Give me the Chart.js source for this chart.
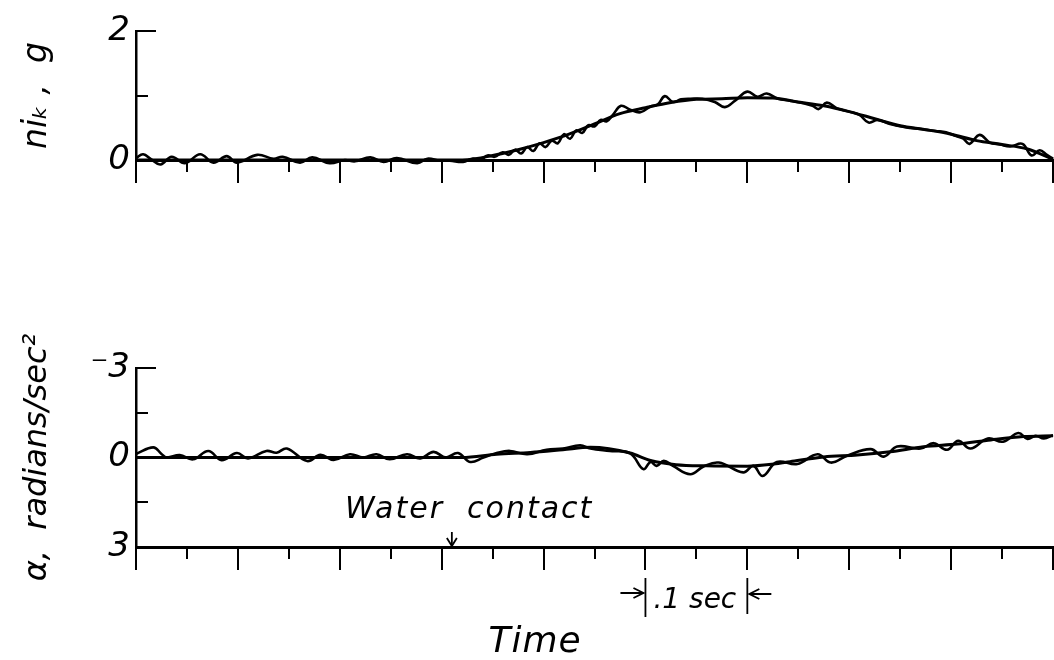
<!DOCTYPE html>
<html>
<head>
<meta charset="utf-8">
<script src="https://cdn.jsdelivr.net/npm/chart.js@4.4.1/dist/chart.umd.min.js"></script>
<style>
  html, body { margin: 0; padding: 0; background: #fff; }
  #wrap { position: relative; width: 1054px; height: 660px; }
  #wrap canvas { position: absolute; left: 0; top: 0; }
</style>
</head>
<body>
<div id="wrap">
  <canvas id="loadFactor" width="1054" height="660"></canvas>
  <canvas id="angAccel" width="1054" height="660"></canvas>
</div>
<script>
// time axis, sec (tick every .05, long tick every .1)
var xTicks = [0, 0.05, 0.1, 0.15, 0.2, 0.25, 0.3, 0.35, 0.4, 0.45, 0.5, 0.55, 0.6, 0.65, 0.7, 0.75, 0.8, 0.85, 0.9];
var waterContact = 0.31;

// top: load factor n, g
var topLabels = [0, 2];
var topMarks = [1, 2];
var fairTopT = [0, 0.30, 0.325, 0.35, 0.375, 0.40, 0.425, 0.45, 0.475, 0.50, 0.525, 0.55, 0.575, 0.60, 0.625, 0.65, 0.675, 0.70, 0.725, 0.75, 0.775, 0.80, 0.825, 0.85, 0.875, 0.90];
var fairTopN = [0, 0, 0.005, 0.07, 0.16, 0.27, 0.40, 0.56, 0.72, 0.81, 0.89, 0.94, 0.95, 0.965, 0.96, 0.90, 0.84, 0.75, 0.64, 0.53, 0.47, 0.40, 0.30, 0.24, 0.17, 0.01];
var measTopT = [0, 0.007, 0.015, 0.024, 0.035, 0.048, 0.063, 0.076, 0.089, 0.099, 0.119, 0.135, 0.144, 0.161, 0.173, 0.190, 0.205, 0.215, 0.230, 0.243, 0.256, 0.276, 0.286, 0.298, 0.308, 0.321,
  0.330, 0.338, 0.345, 0.352, 0.360, 0.366, 0.372, 0.378, 0.384, 0.390, 0.396, 0.402, 0.408, 0.414, 0.420, 0.426, 0.432, 0.438, 0.444, 0.450, 0.456, 0.462, 0.468, 0.476,
  0.485, 0.495, 0.505, 0.512, 0.519, 0.527, 0.535, 0.544, 0.556, 0.568, 0.578, 0.588, 0.600, 0.610, 0.619, 0.630, 0.642, 0.655, 0.664, 0.670, 0.678, 0.688, 0.700,
  0.710, 0.719, 0.728, 0.740, 0.755, 0.770, 0.785, 0.795, 0.805, 0.812, 0.818, 0.828, 0.838, 0.848, 0.858, 0.870, 0.879, 0.887, 0.894, 0.900];
var measTopN = [0.03, 0.09, 0.01, -0.07, 0.05, -0.05, 0.09, -0.04, 0.06, -0.04, 0.08, 0.02, 0.05, -0.04, 0.04, -0.05, 0.0, -0.02, 0.04, -0.03, 0.03, -0.05, 0.02, -0.01, -0.01, -0.03,
  0.02, 0.0, 0.07, 0.05, 0.12, 0.08, 0.16, 0.10, 0.20, 0.14, 0.26, 0.20, 0.30, 0.26, 0.40, 0.33, 0.46, 0.42, 0.54, 0.52, 0.62, 0.60, 0.70, 0.84,
  0.78, 0.74, 0.83, 0.86, 0.99, 0.90, 0.94, 0.95, 0.95, 0.90, 0.82, 0.92, 1.06, 0.98, 1.03, 0.95, 0.92, 0.88, 0.84, 0.79, 0.89, 0.80, 0.75,
  0.70, 0.58, 0.62, 0.56, 0.51, 0.48, 0.45, 0.43, 0.37, 0.33, 0.25, 0.39, 0.27, 0.24, 0.21, 0.25, 0.07, 0.15, 0.08, 0.02];

// bottom: angular acceleration, radians/sec^2 (axis runs -3 at top to 3 at bottom)
var botLabels = [-3, 0, 3];
var botMarks = [-3, -1.5, 1.5];
var fairBotT = [0, 0.32, 0.354, 0.387, 0.419, 0.446, 0.485, 0.505, 0.53, 0.56, 0.60, 0.626, 0.642, 0.675, 0.708, 0.74, 0.773, 0.806, 0.839, 0.871, 0.90];
var fairBotA = [0, 0, -0.11, -0.17, -0.26, -0.34, -0.15, 0.10, 0.24, 0.28, 0.29, 0.22, 0.14, -0.02, -0.08, -0.19, -0.36, -0.45, -0.59, -0.70, -0.73];
var measBotT = [0, 0.017, 0.025, 0.030, 0.043, 0.056, 0.071, 0.084, 0.099, 0.110, 0.128, 0.138, 0.148, 0.168, 0.181, 0.194, 0.210, 0.223, 0.236, 0.249, 0.266, 0.279, 0.292, 0.304, 0.316, 0.328,
  0.341, 0.354, 0.367, 0.384, 0.403, 0.419, 0.436, 0.446, 0.465, 0.485, 0.498, 0.505, 0.511, 0.518, 0.527, 0.544, 0.557, 0.572, 0.596, 0.606, 0.615, 0.629, 0.649,
  0.669, 0.682, 0.698, 0.721, 0.734, 0.747, 0.770, 0.783, 0.796, 0.807, 0.819, 0.836, 0.851, 0.866, 0.875, 0.883, 0.891, 0.900];
var measBotA = [-0.12, -0.34, -0.12, 0.0, -0.08, 0.06, -0.22, 0.09, -0.15, 0.03, -0.22, -0.16, -0.30, 0.12, -0.09, 0.08, -0.11, 0.0, -0.11, 0.06, -0.11, 0.03, -0.19, 0.0, -0.15, 0.15,
  0.0, -0.15, -0.22, -0.11, -0.26, -0.30, -0.41, -0.30, -0.22, -0.14, 0.39, 0.15, 0.28, 0.11, 0.28, 0.56, 0.30, 0.17, 0.50, 0.28, 0.62, 0.15, 0.22,
  -0.11, 0.17, -0.06, -0.28, -0.03, -0.37, -0.30, -0.48, -0.26, -0.56, -0.30, -0.64, -0.53, -0.82, -0.62, -0.73, -0.64, -0.75];

var FONT = '"DejaVu Sans", "Liberation Sans", sans-serif';

function pairs(xs, ys) {
  return xs.map(function(x, i) { return {x: x, y: ys[i]}; });
}

// tick marks: time ticks point down, value ticks point into the plot
function tickMarks(yMarks) {
  return {
    id: 'tickMarks',
    afterDraw: function(chart) {
      var ctx = chart.ctx, area = chart.chartArea;
      var xs = chart.scales.x, ys = chart.scales.y;
      ctx.save();
      ctx.strokeStyle = '#000';
      ctx.lineWidth = 2;
      xTicks.forEach(function(t, i) {
        var px = Math.round(xs.getPixelForValue(t));
        var len = i % 2 === 0 ? 23 : 12;
        ctx.beginPath();
        ctx.moveTo(px, area.bottom);
        ctx.lineTo(px, area.bottom + len);
        ctx.stroke();
      });
      yMarks.forEach(function(v) {
        var py = Math.round(ys.getPixelForValue(v));
        var len = (v === ys.min || v === ys.max) ? 20 : 12;
        ctx.beginPath();
        ctx.moveTo(area.left, py);
        ctx.lineTo(area.left + len, py);
        ctx.stroke();
      });
      ctx.restore();
    }
  };
}

function arrowHead(ctx, x, y, dir) {
  ctx.beginPath();
  if (dir === 'down') {
    ctx.moveTo(x - 5, y - 8); ctx.lineTo(x, y); ctx.lineTo(x + 5, y - 8);
  } else if (dir === 'right') {
    ctx.moveTo(x - 10, y - 5); ctx.lineTo(x, y); ctx.lineTo(x - 10, y + 5);
  } else {
    ctx.moveTo(x + 10, y - 5); ctx.lineTo(x, y); ctx.lineTo(x + 10, y + 5);
  }
  ctx.stroke();
}

var notes = {
  id: 'notes',
  afterDraw: function(chart) {
    var ctx = chart.ctx, xs = chart.scales.x, area = chart.chartArea;
    ctx.save();
    ctx.fillStyle = '#000';
    ctx.strokeStyle = '#000';
    ctx.lineWidth = 1.8;
    ctx.textBaseline = 'alphabetic';

    // water contact
    ctx.font = 'italic 30px ' + FONT;
    ctx.letterSpacing = '2px';
    ctx.textAlign = 'left';
    ctx.fillText('Water  contact', 345, 518);
    var wx = xs.getPixelForValue(waterContact);
    ctx.beginPath();
    ctx.moveTo(wx, area.bottom - 15);
    ctx.lineTo(wx, area.bottom - 1);
    ctx.stroke();
    arrowHead(ctx, wx, area.bottom - 1, 'down');

    // .1 sec marker
    var a = xs.getPixelForValue(0.5), b = xs.getPixelForValue(0.6);
    ctx.beginPath();
    ctx.moveTo(a, 578); ctx.lineTo(a, 617);
    ctx.moveTo(b, 578); ctx.lineTo(b, 614);
    ctx.moveTo(a - 25, 593); ctx.lineTo(a - 2, 593);
    ctx.moveTo(b + 24, 594); ctx.lineTo(b + 2, 594);
    ctx.stroke();
    arrowHead(ctx, a - 2, 593, 'right');
    arrowHead(ctx, b + 2, 594, 'left');
    ctx.font = 'italic 28px ' + FONT;
    ctx.letterSpacing = '0px';
    ctx.fillText('.1 sec', a + 8, 608);

    // time axis title
    ctx.font = 'italic 36px ' + FONT;
    ctx.letterSpacing = '1px';
    ctx.textAlign = 'center';
    ctx.fillText('Time', 535, 652);
    ctx.restore();
  }
};

function makeChart(id, cfg) {
  return new Chart(document.getElementById(id), {
    type: 'line',
    data: {
      datasets: [
        { data: pairs(cfg.fairT, cfg.fairV), cubicInterpolationMode: 'monotone', borderWidth: 3 },
        { data: pairs(cfg.measT, cfg.measV), tension: 0.4, borderWidth: 2.6 }
      ]
    },
    options: {
      responsive: false,
      animation: false,
      devicePixelRatio: 1,
      layout: { padding: cfg.padding },
      elements: {
        point: { radius: 0 },
        line: { borderColor: '#000', fill: false }
      },
      datasets: { line: { clip: false } },
      plugins: { legend: { display: false }, tooltip: { enabled: false } },
      scales: {
        x: {
          type: 'linear', min: 0, max: 0.9,
          ticks: { display: false },
          grid: { display: false, drawTicks: false },
          border: { display: true, width: 3, color: '#000' },
          afterFit: function(s) { s.height = 0; }
        },
        y: {
          min: cfg.min, max: cfg.max, reverse: cfg.reverse,
          afterBuildTicks: function(s) { s.ticks = cfg.labels.map(function(v) { return {value: v}; }); },
          ticks: {
            color: '#000', padding: 6,
            font: { family: FONT, size: 34, style: 'italic' },
            callback: function(v) { return v < 0 ? '\u207B' + Math.abs(v) : String(v); }
          },
          grid: { display: false, drawTicks: false },
          border: { display: true, width: 2.5, color: '#000' },
          title: {
            display: true, text: cfg.title, color: '#000',
            font: { family: FONT, size: cfg.titleSize, style: 'italic' },
            padding: { top: 18, bottom: 0 }
          },
          afterFit: function(s) { s.width = 136; }
        }
      }
    },
    plugins: cfg.plugins
  });
}

makeChart('loadFactor', {
  fairT: fairTopT, fairV: fairTopN, measT: measTopT, measV: measTopN,
  min: 0, max: 2, reverse: false, labels: topLabels,
  title: 'ni\u2096 ,  g', titleSize: 33,
  padding: { top: 31, bottom: 500, left: 0, right: 1 },
  plugins: [tickMarks(topMarks)]
});

makeChart('angAccel', {
  fairT: fairBotT, fairV: fairBotA, measT: measBotT, measV: measBotA,
  min: -3, max: 3, reverse: true, labels: botLabels,
  title: '\u03B1,  radians/sec\u00B2', titleSize: 32,
  padding: { top: 368, bottom: 113, left: 0, right: 1 },
  plugins: [tickMarks(botMarks), notes]
});
</script>
</body>
</html>
